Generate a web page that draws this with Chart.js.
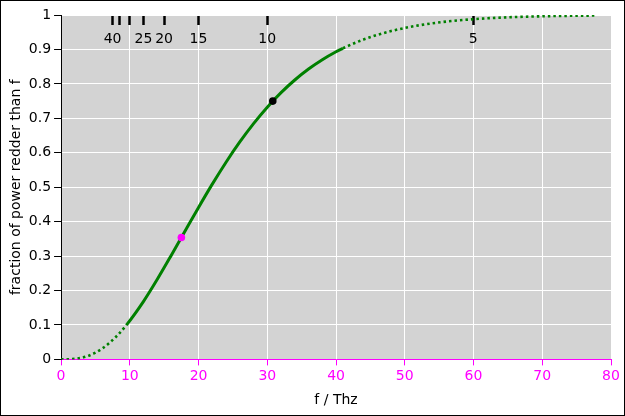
<!DOCTYPE html>
<html>
<head>
<meta charset="utf-8">
<script src="https://cdn.jsdelivr.net/npm/chart.js@4.4.0/dist/chart.umd.min.js"></script>
<style>
    html, body { margin: 0; padding: 0; background: #fff; }
    #wrap { width: 623px; height: 414px; border: 1px solid #000; }
    canvas { display: block; }
</style>
</head>
<body>
<div id="wrap"><canvas id="chart" width="623" height="414"></canvas></div>
<script>
// Dane: czestotliwosc (THz) i udzial mocy ponizej f
const freq = [0, 2, 4, 6, 8, 9.5, 12, 14, 16, 18, 20, 22, 24, 26, 28, 30, 32, 34, 36, 38, 40, 41,
    44, 48, 52, 56, 60, 64, 68, 72, 78];
const fraction = [0, 0.0015, 0.0107, 0.0317, 0.0658, 0.0995, 0.1686, 0.2326, 0.3011, 0.3715,
    0.4414, 0.5089, 0.5725, 0.6313, 0.6846, 0.7324, 0.7746, 0.8113, 0.8431, 0.8702, 0.8932,
    0.9034, 0.9288, 0.9533, 0.9698, 0.9808, 0.9879, 0.9924, 0.9953, 0.9971, 0.9986];

// ciagla linia tylko pomiedzy tymi czestotliwosciami
const solidFrom = 9.5;
const solidTo = 41;

// punkty: maksimum w czestotliwosci (magenta) i w dlugosci fali (czarny)
const peakFreq = [17.5];
const peakFrac = [0.354];
const wienFreq = [30.8];
const wienFrac = [0.75];

// gorna os: dlugosc fali w mikrometrach
const lambdaTicks = [40, 35, 30, 25, 20, 15, 10, 5];
const lambdaLabels = ['40', '', '', '25', '20', '15', '10', '5'];
const C_UM_THZ = 299.8;

const font = { family: 'DejaVu Sans', size: 14 };
const magenta = '#ff00ff';

// szare tlo obszaru wykresu
const plotBackground = {
    id: 'plotBackground',
    beforeDraw(chart) {
        const { ctx, chartArea: a } = chart;
        ctx.save();
        ctx.fillStyle = '#d3d3d3';
        ctx.fillRect(a.left, a.top, a.width, a.height);
        ctx.restore();
    }
};

const curve = freq.map((f, i) => ({ x: f, y: fraction[i] }));
const dotted = ctx => ctx.p0.parsed.x < solidFrom || ctx.p0.parsed.x >= solidTo;

new Chart(document.getElementById('chart'), {
    type: 'line',
    data: {
        datasets: [
            {
                data: peakFreq.map((f, i) => ({ x: f, y: peakFrac[i] })),
                showLine: false,
                pointRadius: 3.8,
                pointBorderWidth: 0,
                pointBackgroundColor: magenta,
                order: 0
            },
            {
                data: wienFreq.map((f, i) => ({ x: f, y: wienFrac[i] })),
                showLine: false,
                pointRadius: 3.8,
                pointBorderWidth: 0,
                pointBackgroundColor: '#000',
                order: 0
            },
            {
                data: curve,
                borderColor: '#008000',
                borderWidth: 3,
                pointRadius: 0,
                cubicInterpolationMode: 'monotone',
                fill: false,
                order: 1,
                segment: {
                    borderDash: ctx => dotted(ctx) ? [2.5, 3] : undefined,
                    borderWidth: ctx => dotted(ctx) ? 2.6 : undefined
                }
            }
        ]
    },
    options: {
        responsive: false,
        animation: false,
        layout: { padding: { top: 8, right: 13, bottom: 2, left: 0 } },
        plugins: {
            legend: { display: false },
            tooltip: { enabled: false }
        },
        scales: {
            x: {
                type: 'linear',
                position: 'bottom',
                min: 0,
                max: 80,
                grid: { color: '#ffffff', tickColor: magenta, tickLength: 6 },
                border: { color: magenta, width: 1 },
                ticks: { stepSize: 10, color: magenta, font: font, padding: 3, maxRotation: 0 },
                title: { display: true, text: 'f / Thz', color: '#000', font: font, padding: { top: 4, bottom: 4 } }
            },
            top: {
                type: 'linear',
                position: 'top',
                min: 0,
                max: 80,
                afterBuildTicks: scale => {
                    scale.ticks = lambdaTicks.map(l => ({ value: C_UM_THZ / l }));
                },
                afterFit: scale => {
                    scale.height = 6;
                },
                grid: { drawOnChartArea: false, drawTicks: true, tickLength: -10, tickWidth: 2.5, tickColor: '#000' },
                border: { display: false },
                ticks: {
                    mirror: true,
                    padding: 15.6,
                    color: '#000',
                    font: font,
                    autoSkip: false,
                    maxRotation: 0,
                    callback: (v, i) => lambdaLabels[i]
                }
            },
            y: {
                min: 0,
                max: 1,
                grid: { color: '#ffffff', tickColor: '#000', tickLength: 7 },
                border: { color: '#000', width: 1 },
                ticks: {
                    stepSize: 0.1,
                    color: '#000',
                    font: font,
                    padding: 3,
                    callback: v => String(Math.round(v * 10) / 10)
                },
                title: {
                    display: true,
                    text: 'fraction of power redder than f',
                    color: '#000',
                    font: font,
                    padding: { top: 6.5, bottom: 1.5 }
                }
            }
        }
    },
    plugins: [plotBackground]
});
</script>
</body>
</html>
